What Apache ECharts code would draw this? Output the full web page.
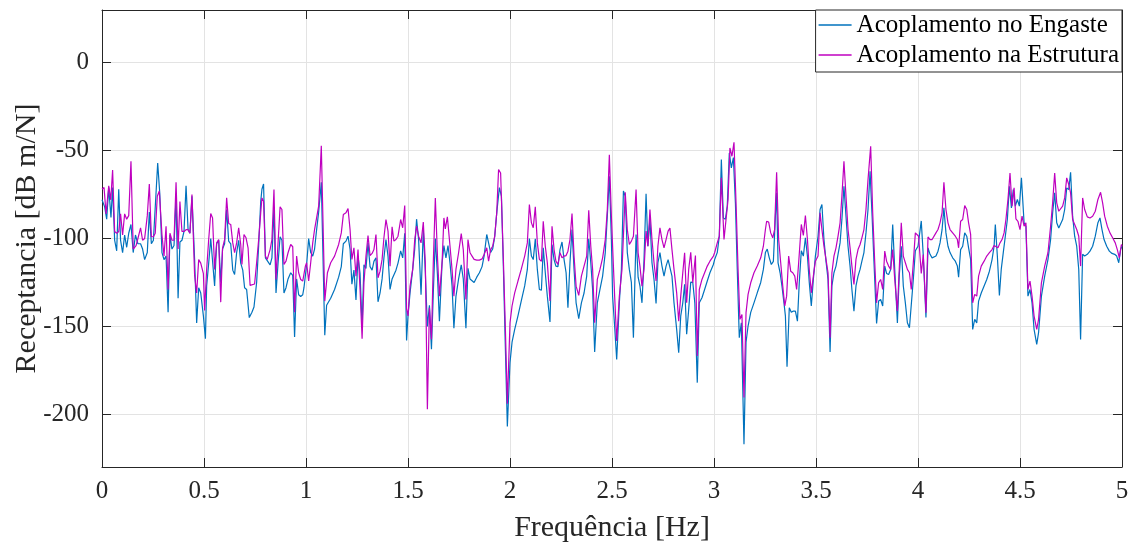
<!DOCTYPE html>
<html><head><meta charset="utf-8">
<script src="https://cdn.jsdelivr.net/npm/echarts@6/dist/echarts.min.js"></script>
<style>html,body{margin:0;padding:0;background:#fff}#c{width:1131px;height:545px}</style>
</head><body><div id="c"></div>
<script>
// Frequência [Hz], Receptancia [dB m/N]
const seriesNames = ['Acoplamento no Engaste', 'Acoplamento na Estrutura'];
const engaste = [
[0,-78],[0.013,-82],[0.023,-89],[0.033,-71],[0.044,-88],[0.052,-71],[0.062,-101],[0.072,-107],[0.082,-72],[0.091,-101],[0.101,-108],[0.111,-98],[0.121,-105],[0.131,-97],[0.142,-92],[0.153,-108],[0.164,-98],[0.176,-103],[0.189,-103],[0.199,-106],[0.209,-112],[0.222,-108],[0.232,-85],[0.242,-103],[0.252,-101],[0.273,-57],[0.283,-74],[0.294,-108],[0.304,-112],[0.314,-110],[0.324,-142],[0.333,-98],[0.343,-106],[0.353,-104],[0.363,-76],[0.373,-134],[0.382,-102],[0.392,-101],[0.402,-96],[0.412,-70],[0.422,-95],[0.431,-97],[0.441,-76],[0.454,-112],[0.464,-148],[0.474,-128],[0.484,-131],[0.497,-144],[0.507,-157],
[0.513,-127],[0.523,-114],[0.533,-100],[0.542,-101],[0.552,-127],[0.562,-103],[0.572,-101],[0.582,-125],[0.591,-106],[0.601,-103],[0.611,-83.5],[0.621,-101.5],[0.631,-103],[0.641,-118],[0.650,-120.5],[0.660,-108],[0.670,-101],[0.680,-114],[0.690,-118],[0.699,-128],[0.709,-129],[0.722,-145],[0.735,-142],[0.745,-139],[0.758,-125],[0.768,-104],[0.778,-79],[0.784,-72],[0.792,-69],[0.801,-111],[0.810,-110],[0.824,-115],[0.833,-111],[0.843,-82],[0.853,-131],[0.863,-114],[0.873,-99],[0.882,-101],[0.892,-131],[0.902,-128],[0.912,-123],[0.925,-119.5],[0.935,-121],[0.944,-156],[0.954,-123],[0.964,-132],[0.974,-133],[0.984,-132],[0.990,-128],[1.003,-115],
[1.013,-100],[1.023,-108],[1.033,-110],[1.042,-106],[1.052,-95],[1.062,-85],[1.072,-72],[1.075,-68],[1.092,-155],[1.101,-138],[1.121,-134],[1.140,-129],[1.160,-122],[1.173,-116],[1.183,-103],[1.196,-101.5],[1.206,-98.7],[1.216,-106],[1.225,-126],[1.235,-118],[1.245,-135],[1.255,-110],[1.265,-120],[1.275,-150],[1.284,-115],[1.294,-117],[1.304,-102.5],[1.314,-116],[1.324,-118],[1.333,-113],[1.343,-111],[1.353,-136],[1.363,-131],[1.373,-123],[1.382,-111],[1.392,-100.6],[1.402,-110],[1.412,-129],[1.422,-123],[1.431,-123],[1.441,-118],[1.451,-114],[1.464,-107],[1.474,-111],[1.484,-97],[1.493,-158],
[1.500,-144],[1.510,-131],[1.523,-117.6],[1.533,-106],[1.542,-89],[1.552,-100.6],[1.564,-132],[1.575,-95],[1.585,-119.5],[1.595,-150],[1.605,-138],[1.615,-163],[1.624,-131],[1.634,-100],[1.644,-120],[1.654,-147],[1.667,-114],[1.676,-104],[1.686,-111],[1.696,-104],[1.706,-114],[1.716,-127],[1.725,-151],[1.735,-133],[1.748,-123],[1.761,-115],[1.771,-123],[1.784,-151],[1.794,-117],[1.804,-123],[1.814,-124],[1.824,-125],[1.837,-122],[1.850,-119.5],[1.863,-116],[1.873,-110],[1.886,-97.7],[1.895,-102.5],[1.905,-108],[1.915,-106],[1.925,-99],[1.935,-85.4],[1.948,-71],[1.958,-76],[1.967,-114],[1.977,-161],[1.987,-207],
[2.000,-170.6],[2.010,-159],[2.023,-151.7],[2.039,-144],[2.055,-135.6],[2.072,-127],[2.085,-117.6],[2.095,-100],[2.105,-110],[2.114,-112],[2.124,-100.2],[2.134,-117.6],[2.144,-129],[2.154,-129.4],[2.163,-105.3],[2.173,-119.5],[2.183,-132.8],[2.196,-147.5],[2.206,-103.4],[2.216,-112],[2.225,-115.7],[2.235,-116],[2.245,-106.3],[2.255,-102],[2.265,-112],[2.275,-119.5],[2.284,-139.4],[2.294,-113.8],[2.304,-94.9],[2.314,-117.6],[2.324,-136.6],[2.337,-145.6],[2.350,-136.6],[2.363,-131],[2.376,-121.4],[2.386,-100.2],[2.396,-113.8],[2.405,-129],[2.415,-164.6],[2.428,-136.6],[2.441,-129],[2.454,-121.4],[2.467,-108],[2.477,-87.3],[2.487,-64.6],[2.497,-100.6],[2.503,-133],
[2.513,-150],[2.523,-168.8],[2.536,-136.6],[2.546,-117.6],[2.556,-73],[2.565,-76],[2.575,-108],[2.585,-117.6],[2.595,-125],[2.605,-156.4],[2.618,-97.7],[2.628,-122],[2.637,-127],[2.647,-136.6],[2.657,-112],[2.667,-74.6],[2.676,-104.4],[2.686,-89],[2.696,-113.8],[2.706,-123.3],[2.716,-137],[2.725,-113.8],[2.735,-108],[2.745,-115.7],[2.755,-121.4],[2.765,-115.7],[2.775,-112],[2.784,-111],[2.794,-121.4],[2.804,-136.6],[2.817,-151.7],[2.827,-165],[2.837,-144],[2.847,-136.6],[2.856,-126],[2.866,-154.5],[2.876,-140.3],[2.886,-124.8],[2.896,-125],[2.906,-136.6],[2.918,-182],[2.928,-136.6],[2.941,-133.7],[2.954,-129],[2.967,-124.2],[2.980,-119.5],[2.997,-114.8],
[3.003,-112],[3.016,-108],[3.026,-98.7],[3.036,-55],[3.046,-88.3],[3.056,-89],[3.065,-81.6],[3.075,-51.3],[3.085,-59.8],[3.095,-54],[3.105,-80],[3.114,-117.6],[3.124,-156.4],[3.134,-148],[3.147,-217],[3.157,-159],[3.167,-149.8],[3.180,-142],[3.196,-136.6],[3.212,-130.9],[3.229,-125],[3.242,-117.6],[3.252,-108],[3.261,-106],[3.271,-111],[3.281,-114.8],[3.291,-113],[3.301,-87.3],[3.307,-74],[3.314,-113.8],[3.324,-119.5],[3.333,-127],[3.343,-136.6],[3.350,-144],[3.358,-173],[3.369,-139.4],[3.379,-142],[3.389,-141.3],[3.399,-141.3],[3.409,-147],[3.418,-125],[3.428,-107],[3.438,-110],[3.448,-99.6],[3.458,-110],[3.467,-125],[3.477,-138.4],[3.487,-123.3],[3.497,-110],
[3.510,-98.7],[3.520,-83.5],[3.529,-80.7],[3.539,-100.6],[3.549,-112.9],[3.559,-123.3],[3.569,-164.6],[3.578,-127],[3.588,-119.5],[3.598,-115.7],[3.608,-109],[3.618,-102.5],[3.627,-89],[3.637,-70.3],[3.647,-87.3],[3.657,-104.4],[3.667,-115.7],[3.676,-129],[3.686,-141.3],[3.696,-127],[3.706,-121.4],[3.716,-117.6],[3.725,-112.9],[3.735,-108],[3.745,-96.8],[3.755,-83.5],[3.765,-61.7],[3.775,-87.3],[3.784,-112.9],[3.797,-148.3],[3.807,-135.6],[3.817,-134.7],[3.827,-138.4],[3.837,-115.7],[3.846,-119.9],[3.856,-120.5],[3.866,-117.6],[3.876,-92],[3.886,-117.6],[3.899,-148],[3.908,-121.4],[3.918,-104.4],[3.928,-127],[3.938,-136.6],[3.948,-147.9],[3.958,-150.8],[3.967,-151.3],[3.977,-123.3],[3.987,-107],[4.000,-104.4],
[4.003,-103.4],[4.016,-90],[4.026,-110],[4.039,-145],[4.049,-105.3],[4.059,-109],[4.069,-111],[4.078,-112],[4.088,-110],[4.098,-107.2],[4.108,-102.5],[4.118,-95],[4.127,-82.6],[4.137,-96.8],[4.147,-104.4],[4.157,-108],[4.170,-111],[4.183,-112.9],[4.193,-115.7],[4.199,-122],[4.209,-106.3],[4.219,-104.4],[4.229,-96.8],[4.239,-98.7],[4.248,-105.3],[4.258,-111.9],[4.268,-151.7],[4.278,-146],[4.288,-148],[4.297,-135.6],[4.310,-131],[4.324,-127],[4.337,-123.3],[4.350,-118.6],[4.363,-112],[4.373,-104.4],[4.379,-92],[4.389,-110],[4.399,-132.4],[4.408,-117.6],[4.418,-108],[4.428,-98.7],[4.438,-89.2],[4.448,-70.3],[4.458,-82.6],[4.467,-72.2],[4.477,-81.6],[4.487,-77.8],[4.497,-81.6],[4.507,-65.5],
[4.520,-91],[4.529,-93],[4.539,-132.8],[4.549,-129],[4.559,-136.6],[4.569,-151.7],[4.582,-160.2],[4.591,-153.6],[4.605,-132.8],[4.621,-121.4],[4.637,-112],[4.650,-100.6],[4.660,-85.4],[4.670,-74],[4.680,-91],[4.690,-94],[4.699,-93],[4.709,-89.2],[4.719,-83.5],[4.729,-71.2],[4.739,-72.2],[4.748,-62.3],[4.758,-87.3],[4.768,-98.7],[4.778,-104.4],[4.788,-117.6],[4.797,-157.4],[4.807,-109],[4.817,-110],[4.830,-109],[4.843,-107.2],[4.856,-104.4],[4.869,-98.7],[4.882,-91],[4.892,-88.3],[4.902,-94.9],[4.912,-100.6],[4.925,-104.4],[4.938,-107.2],[4.951,-108.5],[4.964,-109],[4.974,-110],[4.984,-113.8],[4.993,-106.3],[5.000,-104.4]
];
const estrutura = [
[0,-72],[0.010,-71],[0.020,-86],[0.033,-70],[0.043,-78],[0.052,-61],[0.062,-96],[0.072,-97],[0.082,-96],[0.091,-86],[0.101,-98],[0.111,-86],[0.121,-89],[0.131,-87],[0.142,-56],[0.153,-106],[0.167,-104],[0.176,-100],[0.189,-94],[0.199,-101],[0.209,-100],[0.222,-87],[0.232,-69],[0.242,-99],[0.252,-99],[0.261,-97],[0.271,-76],[0.281,-73],[0.294,-98],[0.304,-110],[0.314,-93],[0.324,-129],[0.333,-97],[0.343,-101],[0.353,-101],[0.363,-68],[0.373,-106],[0.382,-79],[0.392,-96],[0.402,-96],[0.412,-95],[0.422,-95],[0.431,-97],[0.441,-75],[0.454,-121],[0.464,-131],[0.474,-112],[0.484,-114],[0.497,-120],[0.503,-141],
[0.513,-117.6],[0.523,-100.6],[0.533,-85.8],[0.542,-88.3],[0.552,-117.6],[0.562,-102.5],[0.572,-100.6],[0.582,-136.2],[0.591,-105.3],[0.601,-100.6],[0.611,-76.9],[0.621,-91.5],[0.631,-92],[0.641,-102.5],[0.650,-108.1],[0.660,-102.5],[0.670,-93.9],[0.680,-103.4],[0.686,-114.8],[0.696,-97.7],[0.706,-99.6],[0.716,-105.3],[0.726,-126.7],[0.735,-126.3],[0.748,-125.9],[0.758,-113.8],[0.768,-100.6],[0.778,-85.4],[0.784,-76.9],[0.792,-78.8],[0.801,-110],[0.810,-111.9],[0.824,-106.3],[0.833,-100.6],[0.843,-72.2],[0.853,-123.3],[0.863,-102.5],[0.873,-82],[0.882,-83.5],[0.892,-114.8],[0.902,-112.9],[0.912,-108.1],[0.925,-103.4],[0.935,-104.7],[0.944,-141.9],[0.954,-110],[0.964,-119.5],[0.974,-123.3],[0.984,-124.2],[0.997,-115.7],
[1.003,-113.8],[1.013,-124.2],[1.023,-113.8],[1.033,-102.5],[1.042,-94.9],[1.052,-88.3],[1.062,-81.6],[1.075,-47.2],[1.092,-135.6],[1.105,-119.5],[1.121,-113.8],[1.140,-110],[1.160,-103.4],[1.173,-96.8],[1.183,-86.4],[1.196,-85.4],[1.206,-83],[1.216,-94.9],[1.225,-111.9],[1.235,-105.3],[1.245,-121.4],[1.255,-106.3],[1.265,-129],[1.275,-157],[1.284,-125.2],[1.294,-110],[1.304,-98.3],[1.314,-109.7],[1.324,-108.5],[1.333,-106.3],[1.343,-97.7],[1.353,-122.3],[1.363,-118.6],[1.373,-111.9],[1.382,-99.6],[1.392,-89.2],[1.402,-95.8],[1.412,-115.7],[1.422,-93.4],[1.431,-101.5],[1.441,-100.6],[1.451,-98.7],[1.464,-89.2],[1.474,-93.9],[1.484,-81.3],[1.493,-140],
[1.500,-144],[1.510,-127.1],[1.523,-117.6],[1.533,-100.6],[1.542,-93],[1.552,-98.7],[1.564,-102.5],[1.575,-90.7],[1.585,-113.8],[1.595,-197.2],[1.605,-139.4],[1.615,-157.4],[1.624,-113.8],[1.634,-76.9],[1.645,-111.9],[1.654,-132.8],[1.667,-113.8],[1.676,-88.3],[1.683,-94.5],[1.693,-87.7],[1.703,-100.6],[1.716,-117.6],[1.725,-132.8],[1.735,-117.6],[1.748,-108.1],[1.761,-97.2],[1.771,-106.3],[1.784,-134.7],[1.794,-100.6],[1.804,-108.1],[1.814,-110],[1.824,-111.9],[1.837,-112.3],[1.850,-112.3],[1.863,-111.6],[1.873,-109.1],[1.886,-105.3],[1.895,-112.9],[1.905,-106.3],[1.915,-104.4],[1.925,-98.7],[1.935,-85.4],[1.944,-60.8],[1.954,-62.7],[1.967,-110],[1.977,-150],[1.987,-194],
[2.000,-148],[2.010,-138.4],[2.023,-130.9],[2.039,-124.2],[2.055,-117.6],[2.072,-110],[2.085,-102.5],[2.095,-80.7],[2.105,-91.1],[2.114,-93.9],[2.124,-82],[2.134,-102.5],[2.144,-111.9],[2.154,-112.9],[2.163,-90.2],[2.173,-104.4],[2.183,-113.8],[2.196,-135.6],[2.206,-93],[2.216,-106.3],[2.225,-112.9],[2.235,-114.8],[2.245,-108.1],[2.255,-111],[2.265,-110],[2.275,-109.7],[2.284,-107.2],[2.294,-100.6],[2.304,-85.8],[2.314,-110],[2.324,-127.1],[2.337,-132.4],[2.350,-121.4],[2.363,-115.7],[2.376,-110],[2.386,-83.9],[2.396,-104.4],[2.405,-117.6],[2.415,-147.9],[2.428,-123.3],[2.441,-117.6],[2.454,-111],[2.467,-100.6],[2.477,-83.5],[2.487,-52.3],[2.497,-87.3],[2.507,-116],
[2.513,-132.8],[2.523,-158.3],[2.536,-132.8],[2.549,-117.6],[2.565,-73.7],[2.575,-94.9],[2.585,-103.4],[2.595,-101.5],[2.605,-98.7],[2.618,-72.2],[2.628,-108.1],[2.637,-115.7],[2.647,-127.1],[2.657,-117.6],[2.667,-95.8],[2.676,-104.4],[2.686,-83.5],[2.696,-100.6],[2.706,-113.8],[2.716,-124.2],[2.725,-104.4],[2.735,-93.9],[2.745,-100.6],[2.755,-105.3],[2.765,-100.6],[2.775,-95.8],[2.784,-94.1],[2.794,-106.3],[2.804,-117.6],[2.817,-130.9],[2.827,-147],[2.837,-132.8],[2.847,-119.5],[2.856,-108.1],[2.866,-136.6],[2.876,-117.6],[2.886,-107.8],[2.896,-125.2],[2.909,-109.7],[2.918,-166.9],[2.928,-129],[2.941,-123.3],[2.954,-119.5],[2.967,-115.7],[2.980,-112.9],[2.997,-110],
[3.003,-108.1],[3.016,-102.5],[3.026,-98.7],[3.036,-65.5],[3.049,-100.6],[3.059,-89.2],[3.069,-77.8],[3.078,-48.5],[3.088,-53.2],[3.098,-45.3],[3.108,-79.7],[3.118,-117.6],[3.127,-146],[3.137,-143.2],[3.147,-190.5],[3.157,-142.2],[3.167,-131.8],[3.180,-125.2],[3.196,-119.5],[3.212,-115.7],[3.229,-111],[3.242,-104.4],[3.252,-94.9],[3.258,-90.2],[3.268,-90.7],[3.278,-96.8],[3.288,-99.6],[3.297,-94.9],[3.307,-62.3],[3.317,-100.6],[3.327,-113.8],[3.337,-127.1],[3.347,-138.4],[3.356,-132.8],[3.366,-110],[3.376,-118.6],[3.386,-119.5],[3.396,-121.4],[3.405,-129],[3.415,-113.8],[3.428,-92],[3.438,-98.3],[3.448,-86.9],[3.458,-100.6],[3.467,-117.6],[3.477,-130.9],[3.487,-121.4],[3.497,-112.9],
[3.510,-110],[3.520,-85.4],[3.529,-94.9],[3.539,-104.4],[3.549,-111.9],[3.559,-119.5],[3.569,-156.4],[3.578,-119.5],[3.588,-110],[3.598,-105.3],[3.608,-98.7],[3.618,-91.1],[3.627,-75.9],[3.637,-56.1],[3.647,-75.9],[3.657,-94.9],[3.667,-105.3],[3.676,-115.7],[3.686,-126.1],[3.696,-111.9],[3.706,-106.3],[3.716,-103.4],[3.725,-99.6],[3.735,-94.9],[3.745,-83.5],[3.755,-66.5],[3.768,-47.5],[3.778,-85.4],[3.788,-113.8],[3.797,-136.6],[3.807,-125.2],[3.817,-123.3],[3.827,-129],[3.837,-107.2],[3.846,-112.9],[3.856,-115.7],[3.866,-117.6],[3.876,-106.3],[3.886,-123.3],[3.899,-141.3],[3.908,-117.6],[3.918,-91.1],[3.928,-110],[3.938,-113.8],[3.948,-117.6],[3.958,-119.5],[3.967,-129],[3.977,-113.8],[3.987,-96.8],[4.003,-98.7],
[4.016,-119.9],[4.026,-109.1],[4.039,-142.2],[4.049,-99.1],[4.059,-100.6],[4.069,-100.6],[4.078,-99.6],[4.088,-96.8],[4.098,-94.9],[4.108,-91.1],[4.118,-85.4],[4.127,-68],[4.137,-83.5],[4.147,-91.1],[4.157,-94.9],[4.170,-96.8],[4.183,-98.7],[4.193,-100.6],[4.199,-105.3],[4.209,-90.2],[4.219,-89.2],[4.229,-81.3],[4.239,-83.5],[4.248,-91.1],[4.258,-97.7],[4.268,-136.6],[4.278,-131.8],[4.288,-132.8],[4.297,-121.4],[4.310,-115.7],[4.324,-112.9],[4.337,-110],[4.350,-108.1],[4.363,-106.3],[4.373,-104],[4.382,-104.4],[4.392,-105.3],[4.402,-102.5],[4.412,-100.6],[4.422,-96.8],[4.431,-89.2],[4.441,-77.8],[4.451,-62.7],[4.461,-81.6],[4.471,-71.2],[4.480,-88.8],[4.490,-90.2],[4.500,-94.9],[4.510,-87.3],
[4.520,-93],[4.529,-91.1],[4.539,-129],[4.549,-124.2],[4.559,-132.8],[4.569,-144.1],[4.582,-151.7],[4.591,-146],[4.605,-125.2],[4.621,-115.7],[4.637,-108.1],[4.650,-93],[4.660,-79.7],[4.670,-62.7],[4.680,-79.7],[4.690,-84.5],[4.699,-83.9],[4.709,-81.6],[4.719,-76.9],[4.729,-65.5],[4.739,-69.3],[4.748,-74.1],[4.758,-89.2],[4.768,-92],[4.778,-94.9],[4.788,-98.7],[4.797,-115.7],[4.807,-76.9],[4.817,-83.5],[4.830,-87.7],[4.843,-88.3],[4.856,-87.3],[4.869,-84.5],[4.882,-77.8],[4.895,-73.7],[4.905,-79.7],[4.915,-87.3],[4.928,-93],[4.941,-96.8],[4.954,-99.6],[4.967,-102.5],[4.977,-106.3],[4.987,-111],[4.997,-103.4],[5.000,-104.4]
];
const xRange = [0, 5, 0.5];
const yRange = [-230, 30];

const FONT = '"Liberation Serif", "Times New Roman", serif';
const AX = '#262626';
const chart = echarts.init(document.getElementById('c'), null, {renderer: 'canvas'});
const tick = {show: true, inside: true, length: 9, lineStyle: {color: AX, width: 1}};
chart.setOption({
  animation: false,
  backgroundColor: '#fff',
  grid: {left: 102, right: 9, top: 10, bottom: 78, containLabel: false, outerBoundsMode: 'none'},
  legend: {
    data: seriesNames, orient: 'vertical', right: 9, top: 10,
    backgroundColor: '#fff', borderColor: AX, borderWidth: 1, borderRadius: 0,
    padding: [1, 3, 3, 3], itemGap: 2, itemWidth: 33, itemHeight: 1.5, icon: 'rect',
    textStyle: {fontFamily: FONT, fontSize: 25, color: '#000', lineHeight: 28}
  },
  xAxis: [{
    type: 'value', min: xRange[0], max: xRange[1], interval: xRange[2],
    name: 'Frequência [Hz]', nameLocation: 'middle', nameGap: 46,
    nameTextStyle: {fontFamily: FONT, fontSize: 30, color: AX},
    axisLine: {show: true, onZero: false, lineStyle: {color: AX, width: 1}},
    axisTick: tick,
    axisLabel: {fontFamily: FONT, fontSize: 25, color: AX, margin: 12, showMinLabel: true, showMaxLabel: true},
    splitLine: {show: true, lineStyle: {color: '#e3e3e3', width: 1}}
  }, {
    type: 'value', position: 'top', min: xRange[0], max: xRange[1], interval: xRange[2],
    axisLine: {show: true, onZero: false, lineStyle: {color: AX, width: 1}},
    axisTick: tick, axisLabel: {show: false}, splitLine: {show: false}
  }],
  yAxis: [{
    type: 'value', min: yRange[0], max: yRange[1], splitNumber: 5,
    name: 'Receptancia [dB m/N]', nameLocation: 'middle', nameGap: 60, nameMoveOverlap: false,
    nameTextStyle: {fontFamily: FONT, fontSize: 30, color: AX},
    axisLine: {show: true, onZero: false, lineStyle: {color: AX, width: 1}},
    axisTick: tick,
    axisLabel: {fontFamily: FONT, fontSize: 25, color: AX, margin: 13, showMinLabel: false, showMaxLabel: false},
    splitLine: {show: true, lineStyle: {color: '#e3e3e3', width: 1}}
  }, {
    type: 'value', position: 'right', min: yRange[0], max: yRange[1], splitNumber: 5,
    axisLine: {show: true, onZero: false, lineStyle: {color: AX, width: 1}},
    axisTick: tick, axisLabel: {show: false}, splitLine: {show: false}
  }],
  series: [
    {name: seriesNames[0], type: 'line', data: engaste, symbol: 'none', showSymbol: false,
     lineStyle: {color: '#0072BD', width: 1.2}, itemStyle: {color: '#0072BD'}, z: 2},
    {name: seriesNames[1], type: 'line', data: estrutura, symbol: 'none', showSymbol: false,
     lineStyle: {color: '#BF00BF', width: 1.2}, itemStyle: {color: '#BF00BF'}, z: 3}
  ]
});
</script></body></html>
